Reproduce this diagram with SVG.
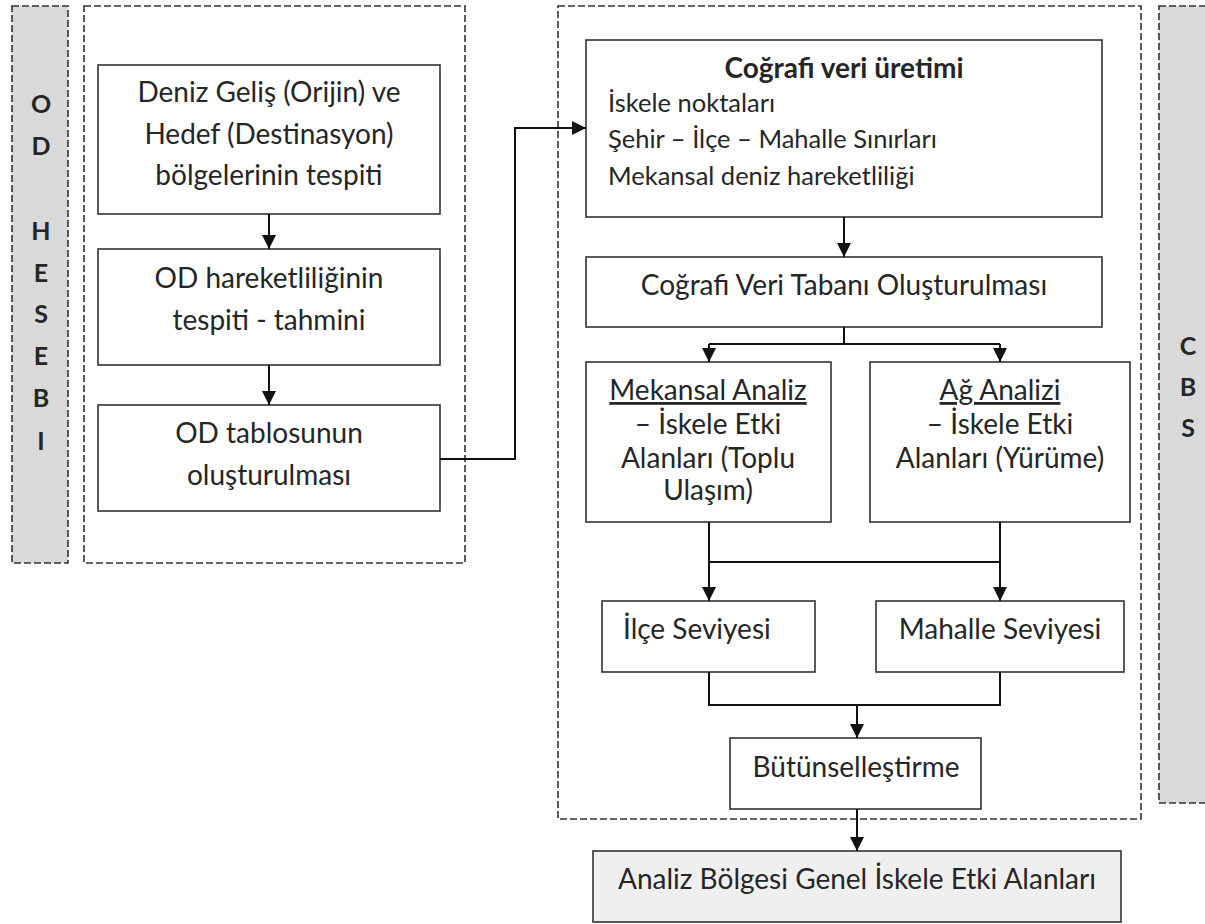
<svg xmlns="http://www.w3.org/2000/svg" width="1205" height="924" viewBox="0 0 1205 924">
<style>
.t{font-family:Lato,"Liberation Sans",sans-serif;font-size:28px;fill:#262626}
.s{font-size:25.5px}
.v{font-size:25px}
.c{text-anchor:middle}
.b{font-weight:bold}
.box{fill:#fff;stroke:#333;stroke-width:1.6}
.dash{fill:none;stroke:#333;stroke-width:1.6;stroke-dasharray:7 3}
.gray{fill:#d9d9d9;stroke:#333;stroke-width:1.6;stroke-dasharray:7 3}
.ln{fill:none;stroke:#111;stroke-width:2}
</style>
<defs>
<marker id="ah" markerWidth="14" markerHeight="14" refX="14" refY="7" orient="auto" markerUnits="userSpaceOnUse">
<path d="M0,0 L14,7 L0,14 Z" fill="#111"/>
</marker>
</defs>
<rect width="1205" height="924" fill="#fff"/>
<g id="od-hesabi">
<rect class="gray" x="12" y="6" width="56" height="557"/>
<text class="t v c b" x="41" y="113">O</text>
<text class="t v c b" x="41" y="155">D</text>
<text class="t v c b" x="41" y="240">H</text>
<text class="t v c b" x="41" y="282">E</text>
<text class="t v c b" x="41" y="323">S</text>
<text class="t v c b" x="41" y="365">E</text>
<text class="t v c b" x="41" y="407">B</text>
<text class="t v c b" x="41" y="450">I</text>
</g>
<g id="od-group"><rect class="dash" x="84" y="6" width="381" height="557"/></g>
<g id="cbs">
<rect class="gray" x="1159" y="6" width="60" height="797"/>
<text class="t v c b" x="1188" y="355">C</text>
<text class="t v c b" x="1188" y="396">B</text>
<text class="t v c b" x="1188" y="437">S</text>
</g>
<g id="cbs-group"><rect class="dash" x="558" y="6" width="583" height="813"/></g>
<g id="n1">
<rect class="box" x="98" y="65" width="342" height="149"/>
<text class="t c" x="269" y="102">Deniz Geliş (Orijin) ve</text>
<text class="t c" x="269" y="144">Hedef (Destinasyon)</text>
<text class="t c" x="269" y="185">bölgelerinin tespiti</text>
</g>
<g id="n2">
<rect class="box" x="98" y="249" width="342" height="116"/>
<text class="t c" x="269" y="288">OD hareketliliğinin</text>
<text class="t c" x="269" y="330">tespiti - tahmini</text>
</g>
<g id="n3">
<rect class="box" x="98" y="405" width="342" height="106"/>
<text class="t c" x="269" y="443">OD tablosunun</text>
<text class="t c" x="269" y="485">oluşturulması</text>
</g>
<g id="n4">
<rect class="box" x="586" y="40" width="516" height="177"/>
<text class="t c b" x="844" y="78">Coğrafi veri üretimi</text>
<text class="t s" x="608" y="112">İskele noktaları</text>
<text class="t s" x="608" y="148">Şehir – İlçe – Mahalle Sınırları</text>
<text class="t s" x="608" y="185">Mekansal deniz hareketliliği</text>
</g>
<g id="n5">
<rect class="box" x="586" y="257" width="516" height="70"/>
<text class="t c" x="844" y="295">Coğrafi Veri Tabanı Oluşturulması</text>
</g>
<g id="n6">
<rect class="box" x="586" y="362" width="245" height="160"/>
<text class="t c" x="708" y="400" text-decoration="underline">Mekansal Analiz</text>
<text class="t c" x="708" y="434">– İskele Etki</text>
<text class="t c" x="708" y="468">Alanları (Toplu</text>
<text class="t c" x="708" y="500">Ulaşım)</text>
</g>
<g id="n7">
<rect class="box" x="870" y="362" width="260" height="160"/>
<text class="t c" x="1000" y="400" text-decoration="underline">Ağ Analizi</text>
<text class="t c" x="1000" y="434">– İskele Etki</text>
<text class="t c" x="1000" y="468">Alanları (Yürüme)</text>
</g>
<g id="n8">
<rect class="box" x="602" y="601" width="213" height="71"/>
<text class="t" x="623" y="639">İlçe Seviyesi</text>
</g>
<g id="n9">
<rect class="box" x="876" y="601" width="248" height="71"/>
<text class="t c" x="1000" y="639">Mahalle Seviyesi</text>
</g>
<g id="n10">
<rect class="box" x="730" y="738" width="251" height="71"/>
<text class="t c" x="856" y="777">Bütünselleştirme</text>
</g>
<g id="n11">
<rect class="box" x="593" y="851" width="528" height="71" style="fill:#efefef"/>
<text class="t c" x="857" y="889">Analiz Bölgesi Genel İskele Etki Alanları</text>
</g>
<g id="connectors">
<path class="ln" d="M269,214 V249" marker-end="url(#ah)"/>
<path class="ln" d="M269,365 V405" marker-end="url(#ah)"/>
<path class="ln" d="M440,459 H515 V128 H586" marker-end="url(#ah)"/>
<path class="ln" d="M844,217 V257" marker-end="url(#ah)"/>
<path class="ln" d="M844,327 V344 M709,344 H1000"/>
<path class="ln" d="M709,344 V362" marker-end="url(#ah)"/>
<path class="ln" d="M1000,344 V362" marker-end="url(#ah)"/>
<path class="ln" d="M709,522 V562 M1000,522 V562 M709,562 H1000"/>
<path class="ln" d="M709,562 V601" marker-end="url(#ah)"/>
<path class="ln" d="M1000,562 V601" marker-end="url(#ah)"/>
<path class="ln" d="M709,672 V705 H1000 V672"/>
<path class="ln" d="M857,705 V738" marker-end="url(#ah)"/>
<path class="ln" d="M857,809 V851" marker-end="url(#ah)"/>
</g>
</svg>
